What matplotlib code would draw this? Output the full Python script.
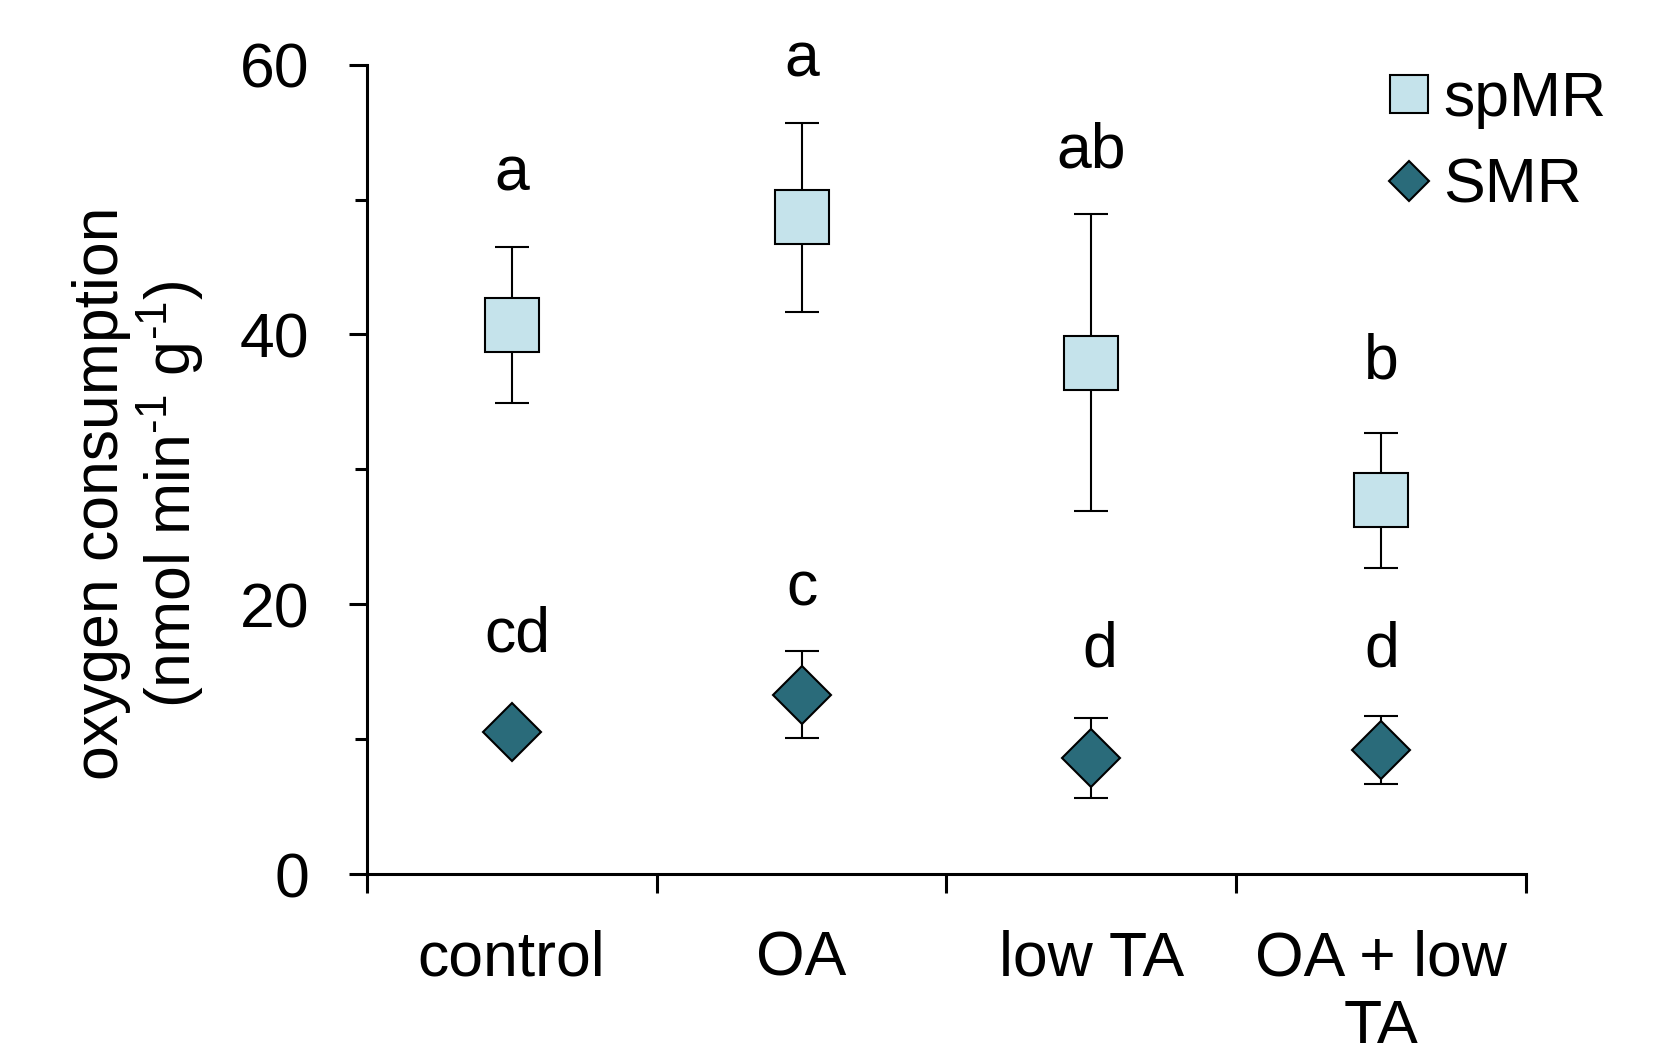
import matplotlib.pyplot as plt
from matplotlib.lines import Line2D

plt.rcParams['font.family'] = ['Liberation Sans', 'DejaVu Sans']
plt.rcParams['mathtext.fontset'] = 'custom'
plt.rcParams['mathtext.rm'] = 'Liberation Sans'

# data
groups = ["control", "OA", "low TA", "OA + low\nTA"]
sp_mean = [40.7, 48.7, 37.9, 27.7]
sp_err = [5.8, 7.0, 11.0, 5.0]
smr_mean = [10.5, 13.3, 8.6, 9.2]
smr_err = [0.6, 3.2, 3.0, 2.5]
sp_letters = ["a", "a", "ab", "b"]
sp_letter_y = [50.7, 59.1, 52.4, 36.7]
smr_letters = ["cd", "c", "d", "d"]
smr_letter_y = [16.5, 19.9, 15.4, 15.4]
smr_letter_dx = [0.02, 0.0, 0.03, 0.0]

light = "#c5e3eb"
dark = "#2a6b7a"
fs = 45

fig = plt.figure(figsize=(16.59, 10.43), dpi=100)
ax = fig.add_axes([0.221, 0.162, 0.699, 0.776])

x = list(range(len(groups)))
ax.errorbar(x, sp_mean, yerr=sp_err, fmt='s', ms=39.5, mfc=light, mec='black',
            mew=1.5, ecolor='black', elinewidth=1.5, capsize=12, capthick=1.5, zorder=3)
ax.errorbar(x, smr_mean, yerr=smr_err, fmt='D', ms=30, mfc=dark, mec='black',
            mew=1.5, ecolor='black', elinewidth=1.5, capsize=12, capthick=1.5, zorder=3)

for i in x:
    ax.text(i, sp_letter_y[i], sp_letters[i], ha='center', va='baseline', fontsize=fs)
    ax.text(i + smr_letter_dx[i], smr_letter_y[i], smr_letters[i], ha='center',
            va='baseline', fontsize=fs)

ax.set_xlim(-0.5, 3.5)
ax.set_ylim(0, 60)
ax.spines['top'].set_visible(False)
ax.spines['right'].set_visible(False)
ax.spines['left'].set_linewidth(2.2)
ax.spines['bottom'].set_linewidth(2.2)

ax.set_xticks([-0.5, 0.5, 1.5, 2.5, 3.5])
ax.set_xticklabels([])
ax.set_xticks(x, minor=True)
ax.set_xticklabels(groups, minor=True, fontsize=fs)
ax.tick_params(axis='x', which='major', direction='out', length=14, width=2.2)
ax.tick_params(axis='x', which='minor', length=0, pad=40)

ax.set_yticks([0, 20, 40, 60])
ax.set_yticks([10, 30, 50], minor=True)
ax.tick_params(axis='y', which='major', direction='out', length=13, width=2.2,
               labelsize=fs, pad=28)
ax.tick_params(axis='y', which='minor', direction='out', length=9, width=2.2)

ax.set_ylabel("oxygen consumption\n(nmol min$^{\\text{-1}}$ g$^{\\text{-1}}$)",
              fontsize=fs, linespacing=1.05)
ax.yaxis.set_label_coords(-0.138, 0.47)

handles = [
    Line2D([], [], ls='none', marker='s', ms=27.5, mfc=light, mec='black', mew=1.5),
    Line2D([], [], ls='none', marker='D', ms=20.5, mfc=dark, mec='black', mew=1.5),
]
ax.legend(handles, ["spMR", "SMR"], loc='upper left', bbox_to_anchor=(0.838, 0.933),
          bbox_transform=fig.transFigure, frameon=False, fontsize=fs,
          handlelength=0.6, handletextpad=0.25, borderpad=0, borderaxespad=0,
          labelspacing=0.44)

fig.savefig("out.png", dpi=100)
